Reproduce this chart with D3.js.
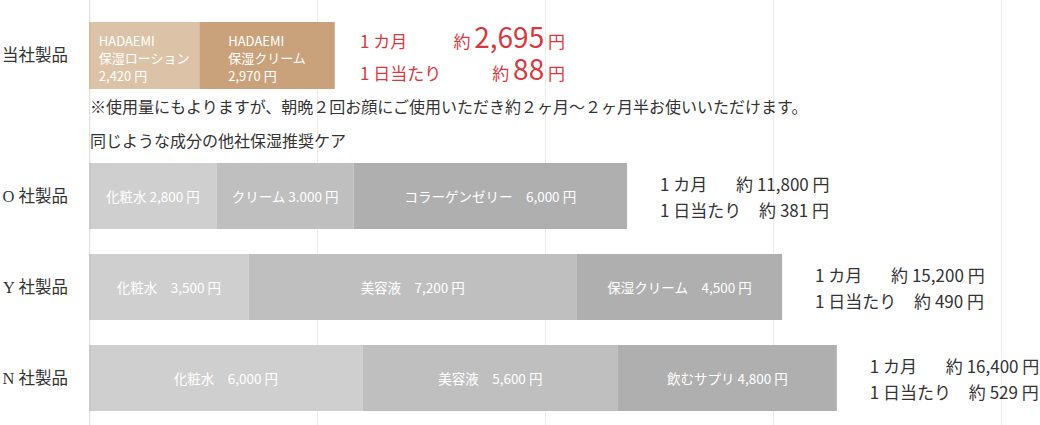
<!DOCTYPE html>
<html>
<head>
<meta charset="utf-8">
<script src="https://cdn.jsdelivr.net/npm/d3@7/dist/d3.min.js"></script>
<style>
  html,body{margin:0;padding:0;background:#fff;}
  #chart{width:1040px;height:425px;}
  text{font-family:"Noto Sans CJK JP","Noto Sans",sans-serif;}
  .rowlab{font-family:"Liberation Serif","Noto Sans CJK JP",serif;}
</style>
</head>
<body>
<div id="chart"></div>
<script>
// own product row
const ownRow = '当社製品';
const ownNames = [['HADAEMI','保湿ローション','2,420 円'], ['HADAEMI','保湿クリーム','2,970 円']];
const ownValues = [2420, 2970];
const ownMonthly = 2695;
const ownDaily = 88;

// competitor rows
const rows = ['O 社製品', 'Y 社製品', 'N 社製品'];
const segValues = [
  [2800, 3000, 6000],
  [3500, 7200, 4500],
  [6000, 5600, 4800]
];
const segLabels = [
  ['化粧水 2,800 円', 'クリーム 3.000 円', 'コラーゲンゼリー　6,000 円'],
  ['化粧水　3,500 円', '美容液　7,200 円', '保湿クリーム　4,500 円'],
  ['化粧水　6,000 円', '美容液　5,600 円', '飲むサプリ 4,800 円']
];
const monthly = [11800, 15200, 16400];
const daily = [381, 490, 529];

const gridTicks = [0, 5000, 10000, 15000, 20000];
const noteText = '※使用量にもよりますが、朝晩２回お顔にご使用いただき約２ヶ月～２ヶ月半お使いいただけます。';
const subTitle = '同じような成分の他社保湿推奨ケア';

(function(){
  const W = 1040, H = 425;
  const svg = d3.select('#chart').append('svg').attr('width', W).attr('height', H);

  const x = d3.scaleLinear().domain([0, 20000]).range([89, 1001]);
  const y = d3.scaleBand().domain(rows).range([163, 411]).paddingInner(25/91).paddingOuter(0);
  const ownTop = 22, ownH = 67;

  const grey = ['#cfcfcf', '#bfbfbf', '#afafaf'];
  const beige = ['#dcc3a7', '#c9a27b'];
  const red = '#d8393e';
  const ink = '#333';
  const fmt = d3.format(',');

  // grid
  svg.append('g')
    .attr('transform', `translate(0,${H})`)
    .call(d3.axisBottom(x).tickValues(gridTicks).tickSize(-H).tickFormat(''))
    .call(g => g.select('.domain').remove())
    .call(g => g.selectAll('line').attr('stroke', '#ebebeb'));

  // own bar
  const ownStack = d3.cumsum([0].concat(ownValues));
  ownValues.forEach((v, i) => {
    const x0 = x(ownStack[i]), x1 = x(ownStack[i + 1]);
    svg.append('rect').attr('x', x0).attr('y', ownTop).attr('width', x1 - x0).attr('height', ownH)
      .attr('fill', beige[i]);
  });
  ownValues.forEach((v, i) => {
    const x0 = x(ownStack[i]), x1 = x(ownStack[i + 1]);
    const lines = ownNames[i].map((s, j) =>
      svg.append('text').attr('x', x0).attr('y', ownTop + 18 + j * 17.5)
        .attr('dominant-baseline', 'central').attr('fill', '#fff').attr('font-size', 13).text(s));
    const bw = d3.max(lines, t => t.node().getComputedTextLength());
    lines.forEach(t => t.attr('x', Math.max(x0 + 6, (x0 + x1) / 2 - bw / 2)));
  });

  // own totals (red)
  const rx = 360, rEnd = 565;
  [['1 カ月', ownMonthly, 48], ['1 日当たり', ownDaily, 80]].forEach(([lab, val, by]) => {
    svg.append('text').attr('x', rx).attr('y', by).attr('fill', red).attr('font-size', 17).text(lab);
    const t = svg.append('text').attr('x', rEnd).attr('y', by).attr('fill', red)
      .attr('font-size', 17).attr('text-anchor', 'end');
    t.append('tspan').text('約 ');
    t.append('tspan').attr('font-size', 28).text(fmt(val));
    t.append('tspan').text(' 円');
  });

  svg.append('text').attr('x', 90).attr('y', 106).attr('dominant-baseline', 'central')
    .attr('font-size', 16).attr('fill', ink).text(noteText);
  svg.append('text').attr('x', 90).attr('y', 140).attr('dominant-baseline', 'central')
    .attr('font-size', 16).attr('fill', ink).text(subTitle);

  // competitor bars
  rows.forEach((r, ri) => {
    const stack = d3.cumsum([0].concat(segValues[ri]));
    const top = y(r), bh = y.bandwidth();
    segValues[ri].forEach((v, i) => {
      const x0 = x(stack[i]), x1 = x(stack[i + 1]);
      svg.append('rect').attr('x', x0).attr('y', top).attr('width', x1 - x0).attr('height', bh)
        .attr('fill', grey[i]);
      svg.append('text').attr('x', (x0 + x1) / 2).attr('y', top + bh / 2)
        .attr('text-anchor', 'middle').attr('dominant-baseline', 'central')
        .attr('fill', '#fff').attr('font-size', 13.5).text(segLabels[ri][i]);
    });
    const tx = x(stack[stack.length - 1]) + 33;
    const c = top + bh / 2;
    svg.append('text').attr('x', tx).attr('y', c - 13).attr('dominant-baseline', 'central')
      .attr('font-size', 17).attr('fill', ink).text('1 カ月');
    svg.append('text').attr('x', tx + 76).attr('y', c - 13).attr('dominant-baseline', 'central')
      .attr('font-size', 17).attr('fill', ink).text('約 ' + fmt(monthly[ri]) + ' 円');
    svg.append('text').attr('x', tx).attr('y', c + 13).attr('dominant-baseline', 'central')
      .attr('font-size', 17).attr('fill', ink).text('1 日当たり');
    svg.append('text').attr('x', tx + 99).attr('y', c + 13).attr('dominant-baseline', 'central')
      .attr('font-size', 17).attr('fill', ink).text('約 ' + fmt(daily[ri]) + ' 円');
  });

  // thin edge at zero
  svg.append('line').attr('x1', x(0) + 1).attr('x2', x(0) + 1).attr('y1', 0).attr('y2', H)
    .attr('stroke', 'rgba(0,0,0,0.035)').attr('stroke-width', 2);

  // row labels
  const labY = [ownTop + ownH / 2].concat(rows.map(r => y(r) + y.bandwidth() / 2));
  [ownRow].concat(rows).forEach((r, i) => {
    svg.append('text').attr('class', 'rowlab').attr('x', 68).attr('y', labY[i])
      .attr('text-anchor', 'end').attr('dominant-baseline', 'central')
      .attr('font-size', 16.5).attr('fill', ink).text(r);
  });
})();
</script>
</body>
</html>
